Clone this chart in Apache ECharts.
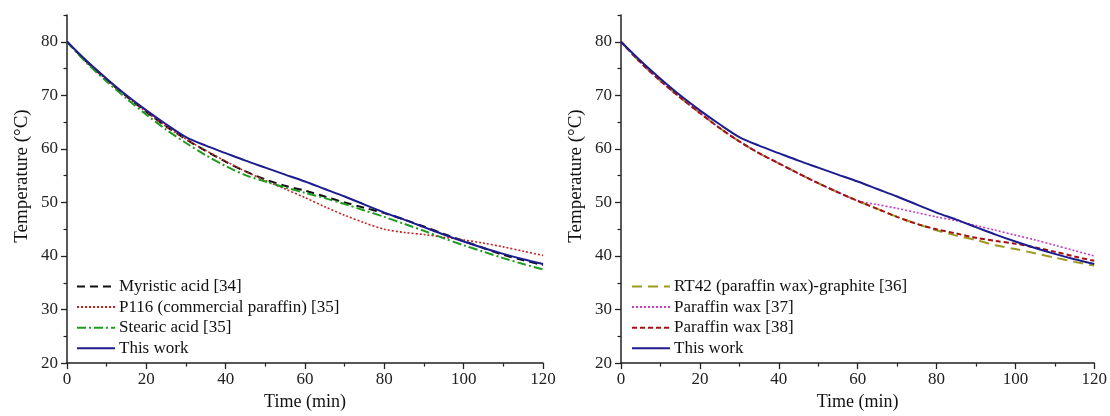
<!DOCTYPE html>
<html>
<head>
<meta charset="utf-8">
<script src="https://cdn.jsdelivr.net/npm/echarts@6/dist/echarts.min.js"></script>
<style>
html,body{margin:0;padding:0;background:#fff;}
#chart{width:1110px;height:416px;}
</style>
</head>
<body>
<div id="chart"></div>
<script>
// ---- data ----
const times = [0,5,10,15,20,25,30,35,40,45,50,55,60,65,70,75,80,85,90,95,100,105,110,115,120];

const thisWork   = [80,76.4,73.1,70.0,67.2,64.6,62.2,60.6,59.2,57.8,56.5,55.2,53.9,52.5,51.1,49.6,48.1,46.8,45.4,44.0,42.7,41.5,40.4,39.4,38.5];
const myristic   = [80,76.2,72.9,69.8,66.9,64.2,61.8,59.6,57.6,55.8,54.3,53.1,52.2,51.1,50.0,49.0,48.0,46.8,45.5,44.1,42.8,41.5,40.2,39.2,38.3];
const p116       = [80,76.2,72.9,69.8,66.9,64.2,61.8,59.7,57.7,55.8,54.1,52.5,50.9,49.2,47.6,46.2,45.0,44.4,44.0,43.5,43.0,42.4,41.7,40.9,40.1];
const stearic    = [80,76.0,72.6,69.4,66.4,63.6,61.1,58.8,56.8,55.1,53.9,52.8,51.8,50.8,49.7,48.5,47.3,46.0,44.7,43.3,42.0,40.8,39.6,38.5,37.5];
const rt42       = [80,76.1,72.7,69.6,66.7,63.9,61.4,59.2,57.3,55.4,53.6,51.9,50.3,48.8,47.3,46.0,44.8,43.8,43.0,42.0,41.3,40.5,39.7,38.9,38.2];
const paraffin37 = [80,76.1,72.7,69.6,66.7,63.9,61.4,59.2,57.3,55.4,53.6,51.9,50.3,49.6,48.9,48.1,47.3,46.6,45.7,44.8,43.9,43.0,42.0,41.0,40.0];
const paraffin38 = [80,76.1,72.7,69.6,66.7,63.9,61.4,59.2,57.3,55.4,53.6,51.9,50.3,48.8,47.3,46.0,45.0,44.2,43.4,42.8,42.3,41.6,40.8,39.9,39.1];

const xTicks = [0,20,40,60,80,100,120];
const yTicks = [20,30,40,50,60,70,80];
const yMinorTicks = [25,35,45,55,65,75,85];

const leftNames = ['Myristic acid [34]','P116 (commercial paraffin) [35]','Stearic acid [35]','This work'];
const rightNames = ['RT42 (paraffin wax)-graphite [36]','Paraffin wax [37]','Paraffin wax [38]','This work'];

// ---- chart ----
const FONT = '"Liberation Serif","Times New Roman",serif';
const pairs = arr => times.map((t,i)=>[t,arr[i]]);

function xAxisFor(g){
  return {
    type:'value', gridIndex:g, min:0, max:120, interval:20,
    name:'Time (min)', nameLocation:'middle', nameGap:29,
    nameTextStyle:{fontFamily:FONT,fontSize:18,color:'#111'},
    axisLine:{show:true,onZero:false,lineStyle:{color:'#222',width:1.5}},
    axisTick:{show:true,inside:false,length:6,lineStyle:{color:'#222',width:1.3}},
    minorTick:{show:true,splitNumber:2,length:3.5,lineStyle:{color:'#222',width:1.2}},
    axisLabel:{fontFamily:FONT,fontSize:17,color:'#222',margin:8},
    splitLine:{show:false}, minorSplitLine:{show:false}
  };
}
function yAxisFor(g){
  return {
    type:'value', gridIndex:g, min:20, max:85, interval:5, position:'left',
    name:'Temperature (°C)', nameLocation:'middle', nameGap:35, nameRotate:90,
    nameTextStyle:{fontFamily:FONT,fontSize:19,color:'#111',padding:[0,0,0,26]},
    axisLine:{show:true,onZero:false,lineStyle:{color:'#222',width:1.5}},
    axisTick:{show:true,length:6,customValues:yTicks,lineStyle:{color:'#222',width:1.3}},
    axisLabel:{fontFamily:FONT,fontSize:17,color:'#222',margin:9,customValues:yTicks},
    splitLine:{show:false}
  };
}
function yMinorFor(g){
  return {
    type:'value', gridIndex:g, min:20, max:85, interval:5, position:'left', offset:0,
    axisLine:{show:false},
    axisTick:{show:true,length:3.5,customValues:yMinorTicks,lineStyle:{color:'#222',width:1.2}},
    axisLabel:{show:false},
    splitLine:{show:false}
  };
}

function line(name, data, color, type, width, xi, yi, z){
  return {
    name, type:'line', xAxisIndex:xi, yAxisIndex:yi, data:pairs(data),
    symbol:'none', smooth:0.3, z:z||2,
    lineStyle:{color, type, width},
    itemStyle:{color},
    emphasis:{disabled:true}
  };
}

const C = {
  blue:'#1c1c8e', black:'#111111', red:'#c82020', green:'#1f9a1f',
  olive:'#9c9a1e', magenta:'#c63cc6', darkred:'#a31212'
};

function legendFor(names, left){
  return {
    data:names, orient:'vertical', left:left, top:273, itemWidth:38, itemHeight:12, itemGap:3.6,
    itemStyle:{opacity:0},
    textStyle:{fontFamily:FONT,fontSize:17,lineHeight:17,color:'#111',padding:[0,0,0,-1]},
    selectedMode:false
  };
}

const option = {
  animation:false,
  backgroundColor:'#fff',
  grid:[
    {left:67, top:15, width:476, height:349},
    {left:621, top:15, width:475, height:349}
  ],
  xAxis:[xAxisFor(0), xAxisFor(1)],
  yAxis:[yAxisFor(0), yAxisFor(1), yMinorFor(0), yMinorFor(1)],
  legend:[legendFor(leftNames, 71), legendFor(rightNames, 626)],
  series:[
    line(leftNames[0], myristic, C.black, [8,5], 2, 0, 0),
    line(leftNames[1], p116, C.red, [2,2], 1.6, 0, 0),
    line(leftNames[2], stearic, C.green, [9,3,2,3], 2, 0, 0),
    line('This work', thisWork, C.blue, 'solid', 2, 0, 0, 3),
    line(rightNames[0], rt42, C.olive, [10,6], 2, 1, 1),
    line(rightNames[1], paraffin37, C.magenta, [2,2], 1.6, 1, 1),
    line(rightNames[2], paraffin38, C.darkred, [5,3], 2, 1, 1),
    line('This work', thisWork, C.blue, 'solid', 2, 1, 1, 3)
  ]
};

const chart = echarts.init(document.getElementById('chart'), null, {renderer:'canvas'});
chart.setOption(option);
</script>
</body>
</html>
